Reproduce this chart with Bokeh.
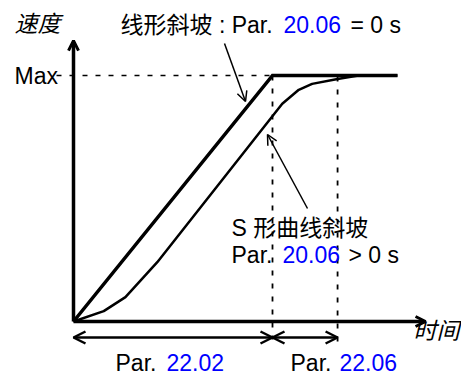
from bokeh.plotting import figure
from bokeh.models import Range1d, Arrow, OpenHead
from bokeh.core.properties import value
from bokeh.embed import file_html
from bokeh.resources import INLINE

# ---- data (time normalised so linear ramp time = 1, speed normalised so Max = 1)
linear_t = [0.0, 1.0, 1.628]
linear_v = [0.0, 1.0, 1.0]
scurve_t = [0.0, 0.152, 0.261, 0.421, 1.049, 1.132, 1.199, 1.327, 1.432, 1.628]
scurve_v = [0.0, 0.042, 0.099, 0.241, 0.885, 0.942, 0.966, 0.986, 1.0, 1.0]
t_ramp = 1.0          # Par. 22.02
t_scurve = 1.327      # Par. 22.06
v_max = 1.0
t_axis_end = 1.769
v_axis_end = 1.142

# ---- layout helpers (picture pixel -> data)
X0, SX, Y0, SY = 73.0, 199.0, 321.0, 246.0
def tx(px): return (px - X0) / SX
def vy(py): return (Y0 - py) / SY

W, H = 461, 376
p = figure(width=W, height=H, output_backend="svg", toolbar_location=None,
           x_range=Range1d(tx(0), tx(W)), y_range=Range1d(vy(H), vy(0)),
           x_axis_location=None, y_axis_location=None, min_border=0)
p.grid.visible = False
p.outline_line_color = None
p.background_fill_color = "white"
p.border_fill_color = "white"

FONT = value("Liberation Sans, Noto Sans CJK SC")
FS = "23px"
BLUE = "#0000ff"

# axes with arrows
p.add_layout(Arrow(end=OpenHead(size=10, line_width=3), x_start=0, y_start=0,
                   x_end=0, y_end=v_axis_end, line_width=3.5))
p.add_layout(Arrow(end=OpenHead(size=10, line_width=3), x_start=0, y_start=0,
                   x_end=t_axis_end, y_end=0, line_width=3.5))

# Max dashed line
p.line([tx(56), t_ramp], [v_max, v_max], line_width=1.5, line_color="black", line_dash="5 8")
# vertical dashed lines
p.line([t_ramp, t_ramp], [vy(75), vy(339)], line_width=1.8, line_color="black", line_dash="5 8")
p.line([t_scurve, t_scurve], [vy(76), vy(343)], line_width=1.8, line_color="black", line_dash="5 8")

# curves
p.line(linear_t, linear_v, line_width=3.5, line_color="black", line_join="miter")
p.line(scurve_t, scurve_v, line_width=2.5, line_color="black")

# double arrows for times
yd = vy(337)
p.add_layout(Arrow(start=OpenHead(size=12, line_width=2.5), end=OpenHead(size=12, line_width=2.5),
                   x_start=0, y_start=yd, x_end=t_ramp, y_end=yd, line_width=2.5))
p.add_layout(Arrow(start=OpenHead(size=12, line_width=2.5), end=OpenHead(size=12, line_width=2.5),
                   x_start=t_ramp, y_start=yd, x_end=t_scurve, y_end=yd, line_width=2.5))

# annotation arrows
p.add_layout(Arrow(end=OpenHead(size=10, line_width=1.5), x_start=tx(224), y_start=vy(43),
                   x_end=tx(245), y_end=vy(101), line_width=1.5))
p.add_layout(Arrow(end=OpenHead(size=10, line_width=1.5), x_start=tx(307), y_start=vy(208),
                   x_end=tx(267), y_end=vy(134), line_width=1.5))

def label(px, py, txt, color="black", style="normal", align="left"):
    p.text(x=[tx(px)], y=[vy(py - 8)], text=[txt], text_font=FONT, text_font_size=FS,
           text_color=color, text_font_style=style, text_align=align,
           text_baseline="alphabetic")

label(14, 31, "速度", style="italic")
label(120, 32, "线形斜坡 : Par.")
label(283, 32, "20.06", BLUE)
label(350, 32, "= 0 s")
label(14, 83, "Max")
label(231, 235, "S 形曲线斜坡")
label(231, 262, "Par.")
label(282, 262, "20.06", BLUE)
label(348, 262, "> 0 s")
label(115, 370, "Par.")
label(166, 370, "22.02", BLUE)
label(290, 370, "Par.")
label(339, 370, "22.06", BLUE)
label(413, 338, "时间", style="italic")

open("out.html", "w").write(file_html(p, INLINE))
